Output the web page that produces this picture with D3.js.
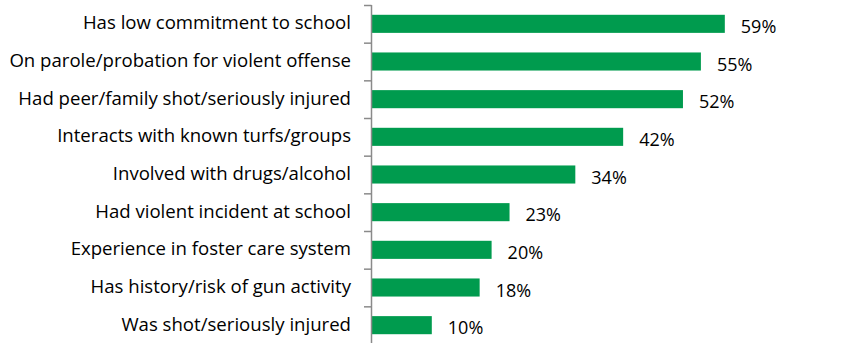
<!DOCTYPE html>
<html><head><meta charset="utf-8">
<script src="https://cdn.jsdelivr.net/npm/d3@7"></script>
<style>body{margin:0;background:#fff}svg{display:block}text{font-family:"Open Sans","Noto Sans",sans-serif;fill:#000}</style>
</head><body><svg id="c" width="843" height="343"></svg>
<script>
const categories = ["Has low commitment to school","On parole/probation for violent offense","Had peer/family shot/seriously injured","Interacts with known turfs/groups","Involved with drugs/alcohol","Had violent incident at school","Experience in foster care system","Has history/risk of gun activity","Was shot/seriously injured"];
const values = [59,55,52,42,34,23,20,18,10];
const valueLabels = ["59%","55%","52%","42%","34%","23%","20%","18%","10%"];

const svg = d3.select("#c");
const x = d3.scaleLinear().domain([0,100]).range([372,970]);
const y = d3.scaleBand().domain(categories).range([5,344]).paddingInner(0.52).paddingOuter(0.26);

svg.selectAll("rect.bar").data(values).join("rect").attr("class","bar")
  .attr("x",x(0)).attr("y",(d,i)=>y(categories[i])).attr("width",d=>x(d)-x(0)).attr("height",y.bandwidth())
  .attr("fill","#009B4E");

const step = y.step();
const g = svg.append("g");
g.append("line").attr("x1",371.5).attr("x2",371.5).attr("y1",5).attr("y2",343).attr("stroke","#8a8a8a").attr("stroke-width",1.5);
const bounds = d3.range(categories.length+1).map(i=>5+i*step);
g.selectAll("line.t").data(bounds).join("line").attr("class","t")
  .attr("x1",364).attr("x2",371.5).attr("y1",d=>d+0.5).attr("y2",d=>d+0.5).attr("stroke","#8a8a8a").attr("stroke-width",1.5);

svg.selectAll("text.cat").data(categories).join("text").attr("class","cat")
  .attr("x",351).attr("y",d=>y(d)+y.bandwidth()/2-1).attr("dy","0.35em").attr("text-anchor","end")
  .attr("font-size",18.6).text(d=>d);

svg.selectAll("text.val").data(values).join("text").attr("class","val")
  .attr("x",d=>x(d)+16).attr("y",(d,i)=>y(categories[i])+y.bandwidth()/2+3).attr("dy","0.35em")
  .attr("font-size",18).text((d,i)=>valueLabels[i]);
</script></body></html>
